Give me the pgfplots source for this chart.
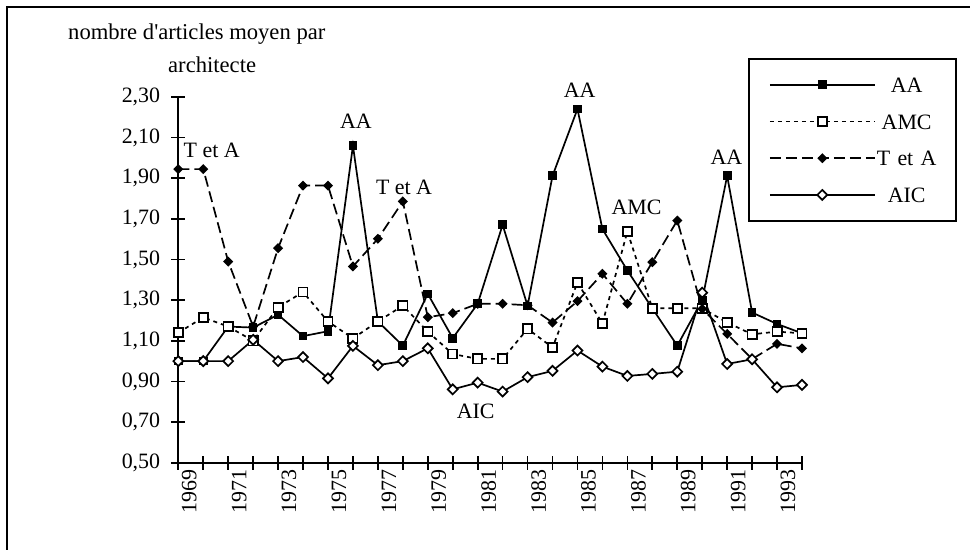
\documentclass[border=0pt]{standalone}
\usepackage{pgfplots}
\pgfplotsset{compat=1.18}
\usepackage{pgfplotstable}
\usepackage{fontspec}
\setmainfont{Liberation Serif}
\newcommand{\cf}{\fontsize{22}{26}\selectfont}
\newcommand{\tf}{\fontsize{22.7}{26}\selectfont}

\pgfplotstableread{
year AA AMC TetA AIC
1969 1.000 1.140 1.945 1.000
1970 1.000 1.215 1.945 1.000
1971 1.170 1.170 1.490 1.000
1972 1.165 1.100 1.170 1.105
1973 1.228 1.265 1.556 1.000
1974 1.123 1.340 1.864 1.020
1975 1.147 1.195 1.864 0.915
1976 2.060 1.112 1.466 1.075
1977 1.195 1.195 1.602 0.980
1978 1.076 1.273 1.786 1.000
1979 1.331 1.145 1.216 1.063
1980 1.113 1.035 1.236 0.861
1981 1.282 1.011 1.282 0.894
1982 1.671 1.011 1.282 0.850
1983 1.272 1.159 1.275 0.921
1984 1.912 1.067 1.190 0.952
1985 2.241 1.387 1.295 1.052
1986 1.650 1.185 1.430 0.973
1987 1.446 1.638 1.282 0.927
1988 1.260 1.260 1.487 0.937
1989 1.076 1.260 1.692 0.948
1990 1.300 1.260 1.257 1.337
1991 1.912 1.190 1.134 0.986
1992 1.239 1.132 1.010 1.009
1993 1.183 1.145 1.085 0.871
1994 1.137 1.137 1.063 0.883
}\datatable

\begin{document}
\begin{tikzpicture}
\path[use as bounding box] (0bp,0bp) rectangle (970bp,550bp);
\draw[line width=1.8bp] (6.7bp,0bp) -- (6.7bp,543.3bp) -- (970bp,543.3bp);
\node[font=\tf, anchor=base west, inner sep=0pt] at (68bp,510.5bp) {nombre d\textquotesingle articles moyen par};
\node[font=\tf, anchor=base west, inner sep=0pt] at (168bp,477.3bp) {architecte};
\begin{axis}[
  at={(178.3bp,87.3bp)}, anchor=south west,
  scale only axis, width=623.7bp, height=365.7bp,
  xmin=1969, xmax=1994, ymin=0.5, ymax=2.3,
  clip=false,
  axis lines=left, axis line style={-, line width=1.7bp},
  xtick={1969,1971,...,1993}, minor xtick={1970,1972,...,1994},
  ytick={0.5,0.7,0.9,1.1,1.3,1.5,1.7,1.9,2.1,2.3},
  tick align=center, major tick length=14bp, minor tick length=14bp,
  every tick/.style={line width=1.7bp, black},
  minor tick style={line width=1.7bp, black},
  /pgf/number format/assume math mode=true,
  xticklabel style={rotate=90, anchor=east, font=\cf, inner sep=0pt, yshift=-11bp, /pgf/number format/1000 sep={}},
  yticklabel style={font=\cf, inner sep=0pt, xshift=-11bp, /pgf/number format/.cd, fixed, fixed zerofill, precision=2, use comma},
  legend style={at={(1.2485,1.1067)}, anchor=north east, draw=black, line width=1.7bp,
    font=\cf, inner xsep=18.5bp, inner ysep=18.5bp, row sep=21.7bp, /tikz/column sep=0pt,
    nodes={inner sep=0pt, text height=15bp, text depth=0bp, text width=62bp, align=center}},
  legend image code/.code={\path (-1.2bp,0bp) (105bp,0bp);
    \draw[mark repeat=2, mark phase=2, #1] plot coordinates {(0bp,0bp) (52.5bp,0bp) (105bp,0bp)};},
]
\addplot[black, line width=1.7bp, mark=square*, mark size=3.5bp, mark options={solid, fill=black}] table[x=year, y=AA] {\datatable};
\addlegendentry{AA}
\addplot[black, line width=1.7bp, dash pattern=on 4bp off 4bp, mark=square*, mark size=4.6bp, mark options={solid, fill=white}] table[x=year, y=AMC] {\datatable};
\addlegendentry{AMC}
\addplot[black, line width=1.7bp, dash pattern=on 11bp off 5bp, mark=square*, mark size=2.7bp, mark options={solid, fill=black, rotate=45}] table[x=year, y=TetA] {\datatable};
\addlegendentry{T et A}
\addplot[black, line width=1.7bp, mark=square*, mark size=3.5bp, mark options={solid, fill=white, rotate=45}] table[x=year, y=AIC] {\datatable};
\addlegendentry{AIC}

\node[font=\cf, inner sep=0pt] at (axis cs:1970.34,2.037) {T et A};
\node[font=\cf, inner sep=0pt] at (axis cs:1976.12,2.18) {AA};
\node[font=\cf, inner sep=0pt] at (axis cs:1978.05,1.857) {T et A};
\node[font=\cf, inner sep=0pt] at (axis cs:1985.09,2.335) {AA};
\node[font=\cf, inner sep=0pt] at (axis cs:1987.37,1.758) {AMC};
\node[font=\cf, inner sep=0pt] at (axis cs:1990.97,2.004) {AA};
\node[font=\cf, inner sep=0pt] at (axis cs:1980.92,0.753) {AIC};
\end{axis}
\end{tikzpicture}
\end{document}
